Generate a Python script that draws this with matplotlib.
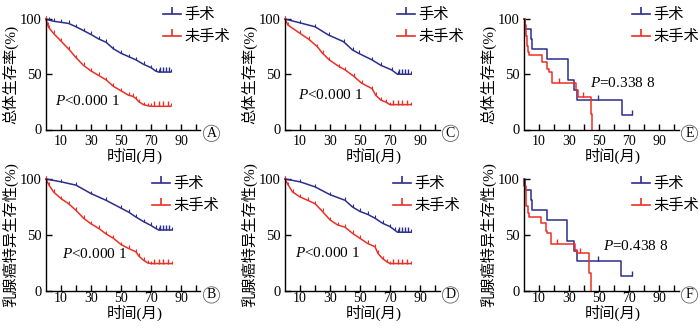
# 手术与未手术患者生存曲线 (A-F)
import numpy as np
import matplotlib
matplotlib.use('Agg')
import matplotlib.pyplot as plt

plt.rcParams['font.family'] = ['Liberation Serif', 'Noto Sans CJK SC']
plt.rcParams['mathtext.fontset'] = 'custom'
plt.rcParams['mathtext.rm'] = 'Liberation Serif'
plt.rcParams['mathtext.it'] = 'Liberation Serif:italic'

BLUE = '#2b2e8c'
RED = '#ec2f26'

# ---- data (months, survival %) ----
A_op_t = [0, 2, 5, 10, 15, 20, 25, 30, 35, 40, 45, 50, 55, 60, 65, 70, 73, 75, 83]
A_op_s = [100, 99, 98, 97, 96, 93, 89.5, 86, 82, 79, 73, 69, 66, 63, 59, 56, 53, 52, 52]
A_no_t = [0, 1, 2, 5, 10, 15, 20, 25, 30, 35, 40, 45, 50, 55, 58, 60, 62, 65, 68, 70, 83]
A_no_s = [100, 95, 92, 87, 80, 73, 65, 58, 53, 49, 45, 39, 35, 31, 30, 28, 25, 22.5, 21.5, 21, 21]

C_op_t = [0, 10, 20, 29, 39, 45, 49, 58, 64, 71, 75, 84]
C_op_s = [100, 96.5, 93, 85.5, 79.5, 72, 69, 63, 58, 54, 50, 50]
C_no_t = [0, 2, 10, 16, 21.5, 25, 29.5, 36, 40, 46, 51, 58, 60.5, 64, 67, 70, 84]
C_no_s = [100, 94.5, 87, 81.5, 75, 69, 63, 57, 54, 48, 42, 37, 31, 26.5, 25, 22.5, 22.5]

E_op_t = [0, 0.8, 4.5, 5.2, 15.5, 29, 33.5, 35.5, 65.5, 72]
E_op_s = [100, 90.5, 81.5, 72.5, 63.5, 45, 36, 27, 13.5, 13.5]
E_op_cens_t = [49, 72]
E_op_cens_s = [27, 13.5]
E_no_t = [0, 0.5, 1.2, 2, 2.8, 3.5, 12, 15.5, 16.5, 18.5, 34.5, 36, 44.5, 45.5]
E_no_s = [100, 95, 85, 76, 70, 67, 61, 55, 52, 42, 36, 29, 14, 0]
E_no_cens_t = [23, 39]
E_no_cens_s = [42, 29]

B_op_t = [0, 10, 20, 30, 40, 50, 55, 60, 65, 70, 73, 75, 84]
B_op_s = [100, 97.5, 94.5, 87, 81, 74, 70.5, 66, 62, 58.5, 56, 54.5, 54.5]
B_no_t = [0, 2, 5, 10, 15, 20, 25, 30, 35, 40, 45, 50, 55, 60, 62, 65, 68, 70, 84]
B_no_s = [100, 94.5, 88.5, 82.5, 78, 72, 65, 60, 56, 51, 47, 41.5, 38, 35, 31, 27.5, 25, 24.5, 24.5]

D_op_t = [0, 10, 20, 30, 40, 45, 50, 55, 60, 65, 70, 73, 75, 84]
D_op_s = [100, 97.5, 93, 86, 81, 75, 71, 68.5, 65, 60.5, 57.5, 54.5, 52.5, 52.5]
D_no_t = [0, 2, 5, 10, 15, 20, 25, 30, 35, 40, 45, 50, 55, 60, 62, 65, 68, 70, 84]
D_no_s = [100, 95, 88.5, 84, 81, 78, 71, 63.5, 59, 57, 51.5, 47, 42.5, 39.5, 33.5, 29, 26, 24.5, 24.5]

F_op_t = [0, 0.8, 4.5, 5, 15.4, 28.5, 33.6, 35, 64.4, 72]
F_op_s = [100, 90, 81, 72, 63, 44.7, 36, 27, 13, 13]
F_op_cens_t = [49, 72]
F_op_cens_s = [27, 13]
F_no_t = [0, 0.3, 1, 1.5, 2.5, 3, 11.2, 14.5, 15.6, 18.2, 34, 35.5, 43.5, 44.5]
F_no_s = [100, 94, 85, 76, 70, 66, 61, 54, 52, 42, 37, 34, 16.5, 0]
F_no_cens_t = [22, 37]
F_no_cens_s = [42, 34]

# censoring ticks on the flat tails of the large cohorts
tail_op_t = [76, 78, 80, 82]
tail_no_t = [72, 75, 78, 81]

groups = ['手术', '未手术']
y_titles = ['总体生存率(%)', '乳腺癌特异生存性(%)']
p_texts = {'A': '$P$<0.000 1', 'C': '$P$<0.000 1', 'E': '$P$=0.338 8',
           'B': '$P$<0.000 1', 'D': '$P$<0.000 1', 'F': '$P$=0.438 8'}

W, H = 700, 331
fig = plt.figure(figsize=(W / 100, H / 100), dpi=100)

col_left = [46, 285, 524]
ax_w = 154.5
rows = [(19, 129.5), (179, 291)]   # pixel top / bottom of axes

panels = [
    ('A', 0, 0, (A_op_t, A_op_s, None, None), (A_no_t, A_no_s, None, None), False, (6, 26), 0.757),
    ('C', 0, 1, (C_op_t, C_op_s, None, None), (C_no_t, C_no_s, None, None), False, (8.7, 31), 0.725),
    ('E', 0, 2, (E_op_t, E_op_s, E_op_cens_t, E_op_cens_s), (E_no_t, E_no_s, E_no_cens_t, E_no_cens_s), True, (44, 42), 0.70),
    ('B', 1, 0, (B_op_t, B_op_s, None, None), (B_no_t, B_no_s, None, None), False, (11, 33), 0.686),
    ('D', 1, 1, (D_op_t, D_op_s, None, None), (D_no_t, D_no_s, None, None), False, (6.7, 34), 0.70),
    ('F', 1, 2, (F_op_t, F_op_s, F_op_cens_t, F_op_cens_s), (F_no_t, F_no_s, F_no_cens_t, F_no_cens_s), True, (52.7, 40), 0.70),
]

for name, r, c, op, no, steps, ppos, leg_x in panels:
    top, bot = rows[r]
    ax = fig.add_axes([col_left[c] / W, 1 - bot / H, ax_w / W, (bot - top) / H])
    for (t, s, ct, cs), col, lab, tail in [(op, BLUE, groups[0], tail_op_t), (no, RED, groups[1], tail_no_t)]:
        if steps:
            ax.plot(t, s, color=col, lw=1.1, drawstyle='steps-post', clip_on=False)
            ax.plot(ct, cs, ls='none', marker=2, ms=3.5, mew=1.0, color=col, clip_on=False)
        else:
            ax.plot(t, s, color=col, lw=1.1, clip_on=False, marker=2, ms=2.5, mew=0.8)
            ax.plot(tail, [s[-1]] * len(tail), ls='none', marker=2, ms=3.5, mew=1.0,
                    color=col, clip_on=False)
        ax.plot([], [], color=col, lw=1.2, marker=2, ms=5, mew=1.2, label=lab)

    ax.set_xlim(0, 103)
    ax.set_ylim(0, 100)
    ax.set_xticks([10, 30, 50, 70, 90])
    ax.set_xticks([20, 40, 60, 80, 100], minor=True)
    ax.set_yticks([0, 50, 100])
    for sp in ['top', 'right']:
        ax.spines[sp].set_visible(False)
    for sp in ['left', 'bottom']:
        ax.spines[sp].set_linewidth(1.0)
    ax.tick_params(direction='in', length=4, width=1.0, labelsize=10.5, pad=3)
    ax.tick_params(axis='x', which='minor', direction='in', length=4, width=1.0)
    ax.tick_params(axis='x', labelsize=10, pad=4 if r == 0 else 1)

    ax.text(ppos[0], ppos[1], p_texts[name], fontsize=11, ha='left', va='center')

    ax.text(0.576, -0.235 if r == 0 else -0.2, '时间(月)', transform=ax.transAxes,
            ha='center', va='center', fontsize=11)
    ax.text(-0.235, 0.5, y_titles[r], transform=ax.transAxes, rotation=90,
            ha='center', va='center', fontsize=11)
    ax.text(1.071, -0.035, name, transform=ax.transAxes, ha='center', va='center',
            fontsize=10, bbox=dict(boxstyle='circle,pad=0.12', fc='none', ec='#666666', lw=0.6))

    leg_y = 1.10 if r == 0 else 1.02
    ax.legend(loc='upper left', bbox_to_anchor=(leg_x, leg_y), frameon=False, fontsize=11,
              borderpad=0, borderaxespad=0, handlelength=1.2, handletextpad=0.2,
              labelspacing=0.5)

fig.savefig('out.png', dpi=100)
